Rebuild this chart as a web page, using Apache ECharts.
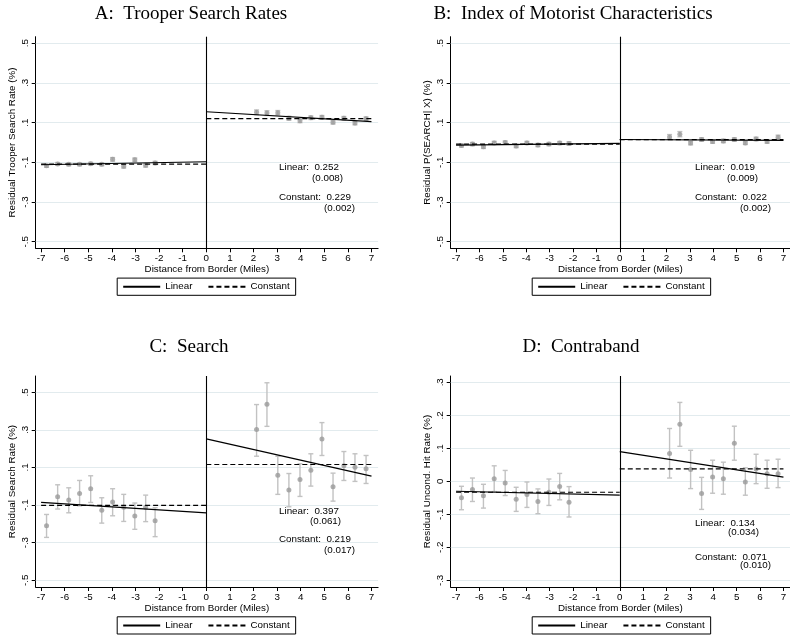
<!DOCTYPE html>
<html>
<head>
<meta charset="utf-8">
<script src="https://cdn.jsdelivr.net/npm/echarts@6/dist/echarts.min.js"></script>
<style>
html, body { margin: 0; padding: 0; background: #fff; }
#main { width: 790px; height: 639px; }
</style>
</head>
<body>
<div id="main"></div>
<script>
// bin centres (miles from border), shared by all panels
var binX = [-6.77, -6.3, -5.83, -5.37, -4.9, -4.43, -3.97, -3.5, -3.03, -2.57, -2.17,
            2.13, 2.57, 3.03, 3.5, 3.97, 4.43, 4.9, 5.37, 5.83, 6.3, 6.77];
var xTicks = [-7, -6, -5, -4, -3, -2, -1, 0, 1, 2, 3, 4, 5, 6, 7];
var leftX = [-7, 0];
var rightX = [0, 7];

// A: trooper search rates
var aMean = [-0.117, -0.108, -0.11, -0.11, -0.107, -0.11, -0.085, -0.12, -0.087, -0.115, -0.103,
             0.152, 0.148, 0.15, 0.122, 0.11, 0.125, 0.127, 0.102, 0.122, 0.098, 0.12];
var aLow = [-0.125, -0.115, -0.117, -0.117, -0.114, -0.117, -0.094, -0.129, -0.096, -0.124, -0.111,
            0.14, 0.136, 0.139, 0.112, 0.1, 0.116, 0.118, 0.093, 0.113, 0.089, 0.111];
var aHigh = [-0.109, -0.101, -0.103, -0.103, -0.1, -0.103, -0.076, -0.111, -0.078, -0.106, -0.095,
             0.164, 0.16, 0.161, 0.132, 0.12, 0.134, 0.136, 0.111, 0.131, 0.107, 0.129];
var aLinLeft = [-0.112, -0.097];
var aLinRight = [0.155, 0.105];
var aConst = [-0.109, 0.12];

// B: index of motorist characteristics
var bMean = [-0.015, -0.008, -0.022, -0.002, 0.0, -0.018, -0.002, -0.013, -0.008, -0.003, -0.005,
             0.028, 0.042, -0.003, 0.015, 0.005, 0.008, 0.015, -0.002, 0.018, 0.005, 0.027];
var bLow = [-0.023, -0.016, -0.03, -0.01, -0.008, -0.026, -0.01, -0.021, -0.016, -0.011, -0.014,
            0.016, 0.029, -0.012, 0.006, -0.004, -0.001, 0.006, -0.01, 0.009, -0.004, 0.017];
var bHigh = [-0.007, 0, -0.014, 0.006, 0.008, -0.01, 0.006, -0.005, 0, 0.005, 0.004,
             0.04, 0.055, 0.006, 0.024, 0.014, 0.017, 0.024, 0.006, 0.027, 0.014, 0.037];
var bLinLeft = [-0.013, -0.004];
var bLinRight = [0.015, 0.011];
var bConst = [-0.008, 0.014];

// C: search
var cMean = [-0.21, -0.056, -0.073, -0.038, -0.013, -0.128, -0.084, -0.112, -0.158, -0.112, -0.183,
             0.302, 0.436, 0.059, -0.02, 0.036, 0.086, 0.252, -0.003, 0.109, 0.102, 0.093];
var cLow = [-0.272, -0.121, -0.141, -0.104, -0.086, -0.196, -0.157, -0.187, -0.229, -0.188, -0.268,
            0.16, 0.319, -0.043, -0.109, -0.054, 0.001, 0.164, -0.079, 0.031, 0.026, 0.015];
var cHigh = [-0.15, 0.008, -0.008, 0.031, 0.056, -0.061, -0.013, -0.043, -0.089, -0.047, -0.114,
             0.435, 0.551, 0.16, 0.068, 0.12, 0.173, 0.339, 0.07, 0.185, 0.173, 0.164];
var cLinLeft = [-0.086, -0.142];
var cLinRight = [0.252, 0.054];
var cConst = [-0.102, 0.116];

// D: contraband
var dMean = [-0.05, -0.025, -0.044, 0.008, -0.005, -0.054, -0.04, -0.061, -0.033, -0.016, -0.063,
             0.084, 0.173, 0.036, -0.037, 0.013, 0.008, 0.115, -0.002, 0.037, 0.023, 0.023];
var dLow = [-0.086, -0.061, -0.081, -0.031, -0.043, -0.091, -0.079, -0.098, -0.073, -0.056, -0.108,
            0.01, 0.106, -0.022, -0.085, -0.036, -0.039, 0.064, -0.042, -0.007, -0.021, -0.019];
var dHigh = [-0.015, 0.01, -0.009, 0.047, 0.033, -0.018, -0.002, -0.023, 0.007, 0.024, -0.016,
             0.16, 0.239, 0.094, 0.012, 0.064, 0.058, 0.167, 0.041, 0.082, 0.064, 0.067];
var dLinLeft = [-0.03, -0.042];
var dLinRight = [0.09, 0.013];
var dConst = [-0.033, 0.038];

var yTicksWide = [-0.5, -0.3, -0.1, 0.1, 0.3, 0.5];
var yTicksD = [-0.3, -0.2, -0.1, 0, 0.1, 0.2, 0.3];

var panels = [
	{ title: 'A:  Trooper Search Rates', yName: 'Residual Trooper Search Rate (%)',
	  mean: aMean, low: aLow, high: aHigh, linL: aLinLeft, linR: aLinRight, cons: aConst,
	  yTicks: yTicksWide, yMin: -0.533, yMax: 0.533,
	  notes: ['Linear:  0.252', '(0.008)', 'Constant:  0.229', '(0.002)'],
	  left: 35.7, top: 36.7, height: 211.6, titleX: 191, titleY: 14,
	  noteY: [167, 178, 197, 208], noteX: [279, 312, 279, 324] },
	{ title: 'B:  Index of Motorist Characteristics', yName: 'Residual P(SEARCH| X) (%)',
	  mean: bMean, low: bLow, high: bHigh, linL: bLinLeft, linR: bLinRight, cons: bConst,
	  yTicks: yTicksWide, yMin: -0.533, yMax: 0.533,
	  notes: ['Linear:  0.019', '(0.009)', 'Constant:  0.022', '(0.002)'],
	  left: 450.7, top: 36.7, height: 211.6, titleX: 573, titleY: 14,
	  noteY: [167, 178, 197, 208], noteX: [695, 727, 695, 740] },
	{ title: 'C:  Search', yName: 'Residual Search Rate (%)',
	  mean: cMean, low: cLow, high: cHigh, linL: cLinLeft, linR: cLinRight, cons: cConst,
	  yTicks: yTicksWide, yMin: -0.536, yMax: 0.587,
	  notes: ['Linear:  0.397', '(0.061)', 'Constant:  0.219', '(0.017)'],
	  left: 35.7, top: 376, height: 211, titleX: 189, titleY: 347,
	  noteY: [511, 521, 539, 550], noteX: [279, 310, 279, 324] },
	{ title: 'D:  Contraband', yName: 'Residual Uncond. Hit Rate (%)',
	  mean: dMean, low: dLow, high: dHigh, linL: dLinLeft, linR: dLinRight, cons: dConst,
	  yTicks: yTicksD, yMin: -0.32, yMax: 0.319,
	  notes: ['Linear:  0.134', '(0.034)', 'Constant:  0.071', '(0.010)'],
	  left: 450.7, top: 376, height: 211, titleX: 581, titleY: 347,
	  noteY: [523, 532, 557, 565], noteX: [695, 728, 695, 740] }
];

var sansFont = '"Liberation Sans", Arial, sans-serif';
var serifFont = '"Liberation Serif", "Times New Roman", serif';
var ink = '#000';
var fs = 9.8;

function fmtY(v) {
	if (Math.abs(v) < 1e-9) return '0';
	return String(+v.toFixed(2)).replace('0.', '.');
}

function errorBars(params, api) {
	var x = api.value(0);
	var top = api.coord([x, api.value(2)]);
	var bot = api.coord([x, api.value(1)]);
	var w = 2.5;
	var st = { stroke: '#c2c2c2', lineWidth: 1.4 };
	return {
		type: 'group',
		children: [
			{ type: 'line', shape: { x1: top[0], y1: top[1], x2: bot[0], y2: bot[1] }, style: st },
			{ type: 'line', shape: { x1: top[0] - w, y1: top[1], x2: top[0] + w, y2: top[1] }, style: st },
			{ type: 'line', shape: { x1: bot[0] - w, y1: bot[1], x2: bot[0] + w, y2: bot[1] }, style: st }
		]
	};
}

var grids = [], xAxes = [], yAxes = [], series = [], legends = [], graphics = [];

panels.forEach(function (p, i) {
	grids.push({ left: p.left, top: p.top, width: 342.4, height: p.height, containLabel: false });

	xAxes.push({
		type: 'value', gridIndex: i, min: -7.23, max: 7.28,
		name: 'Distance from Border (Miles)', nameLocation: 'middle', nameGap: 15,
		nameTextStyle: { fontFamily: sansFont, fontSize: fs, color: ink },
		axisLine: { onZero: false, lineStyle: { color: ink, width: 1 } },
		axisTick: { customValues: xTicks, length: 4, lineStyle: { color: ink } },
		axisLabel: { customValues: xTicks, margin: 5, fontFamily: sansFont, fontSize: fs, color: ink },
		splitLine: { show: false }
	});

	yAxes.push({
		type: 'value', gridIndex: i, min: p.yMin, max: p.yMax,
		name: p.yName, nameLocation: 'middle', nameGap: 18,
		nameTextStyle: { fontFamily: sansFont, fontSize: fs, color: ink },
		axisLine: { show: true, onZero: false, lineStyle: { color: ink, width: 1 } },
		axisTick: { show: true, customValues: p.yTicks, length: 4, lineStyle: { color: ink } },
		axisLabel: { customValues: p.yTicks, rotate: 90, margin: 5, formatter: fmtY,
			fontFamily: sansFont, fontSize: fs, color: ink },
		splitLine: { show: false }
	});

	var bars = binX.map(function (x, k) { return [x, p.low[k], p.high[k]]; });
	var pts = binX.map(function (x, k) { return [x, p.mean[k]]; });
	var gridLines = p.yTicks.map(function (v) { return { yAxis: v }; });

	series.push({
		type: 'custom', name: 'ci', xAxisIndex: i, yAxisIndex: i,
		renderItem: errorBars, encode: { x: 0, y: [1, 2] }, data: bars, silent: true, z: 2,
		markLine: { silent: true, symbol: 'none', label: { show: false }, z: 1,
			lineStyle: { color: '#e2ebee', width: 1, type: 'solid' }, data: gridLines }
	});
	series.push({
		type: 'scatter', name: 'bins', xAxisIndex: i, yAxisIndex: i, data: pts,
		symbolSize: 5, itemStyle: { color: '#9a9a9a' }, silent: true, z: 3
	});

	var solid = { color: ink, width: 1.2, type: 'solid' };
	var dashed = { color: ink, width: 1.2, type: [5, 3] };
	var hidden = { color: ink, opacity: 0 };
	series.push({
		type: 'line', name: 'Linear', xAxisIndex: i, yAxisIndex: i, symbol: 'none',
		data: [[leftX[0], p.linL[0]], [leftX[1], p.linL[1]]], lineStyle: solid, itemStyle: hidden, z: 4,
		markLine: { silent: true, symbol: 'none', label: { show: false },
			lineStyle: { color: ink, width: 1.1, type: 'solid' }, data: [{ xAxis: 0 }] }
	});
	series.push({
		type: 'line', name: 'Linear', xAxisIndex: i, yAxisIndex: i, symbol: 'none',
		data: [[rightX[0], p.linR[0]], [rightX[1], p.linR[1]]], lineStyle: solid, itemStyle: hidden, z: 4
	});
	series.push({
		type: 'line', name: 'Constant', xAxisIndex: i, yAxisIndex: i, symbol: 'none',
		data: [[leftX[0], p.cons[0]], [leftX[1], p.cons[0]]], lineStyle: dashed, itemStyle: hidden, z: 4
	});
	series.push({
		type: 'line', name: 'Constant', xAxisIndex: i, yAxisIndex: i, symbol: 'none',
		data: [[rightX[0], p.cons[1]], [rightX[1], p.cons[1]]], lineStyle: dashed, itemStyle: hidden, z: 4
	});

	legends.push({
		data: ['Linear', 'Constant'], left: p.left + 81.5, top: p.top + p.height + 29.8,
		orient: 'horizontal', padding: [3, 6, 3, 5], itemGap: 15, itemWidth: 37, itemHeight: 14,
		borderColor: ink, borderWidth: 1, borderRadius: 0, selectedMode: false,
		itemStyle: { opacity: 0 },
		textStyle: { fontFamily: sansFont, fontSize: fs, color: ink }
	});

	graphics.push({
		type: 'text', x: p.titleX, y: p.titleY,
		style: { text: p.title, textAlign: 'center', textVerticalAlign: 'middle',
			font: '19px ' + serifFont, fill: ink }
	});
	p.notes.forEach(function (t, k) {
		graphics.push({
			type: 'text', x: p.noteX[k], y: p.noteY[k],
			style: { text: t, textAlign: 'left', textVerticalAlign: 'middle',
				font: fs + 'px ' + sansFont, fill: ink }
		});
	});
});

var chart = echarts.init(document.getElementById('main'));
chart.setOption({
	backgroundColor: '#fff',
	animation: false,
	grid: grids,
	xAxis: xAxes,
	yAxis: yAxes,
	legend: legends,
	graphic: graphics,
	series: series
});
</script>
</body>
</html>
